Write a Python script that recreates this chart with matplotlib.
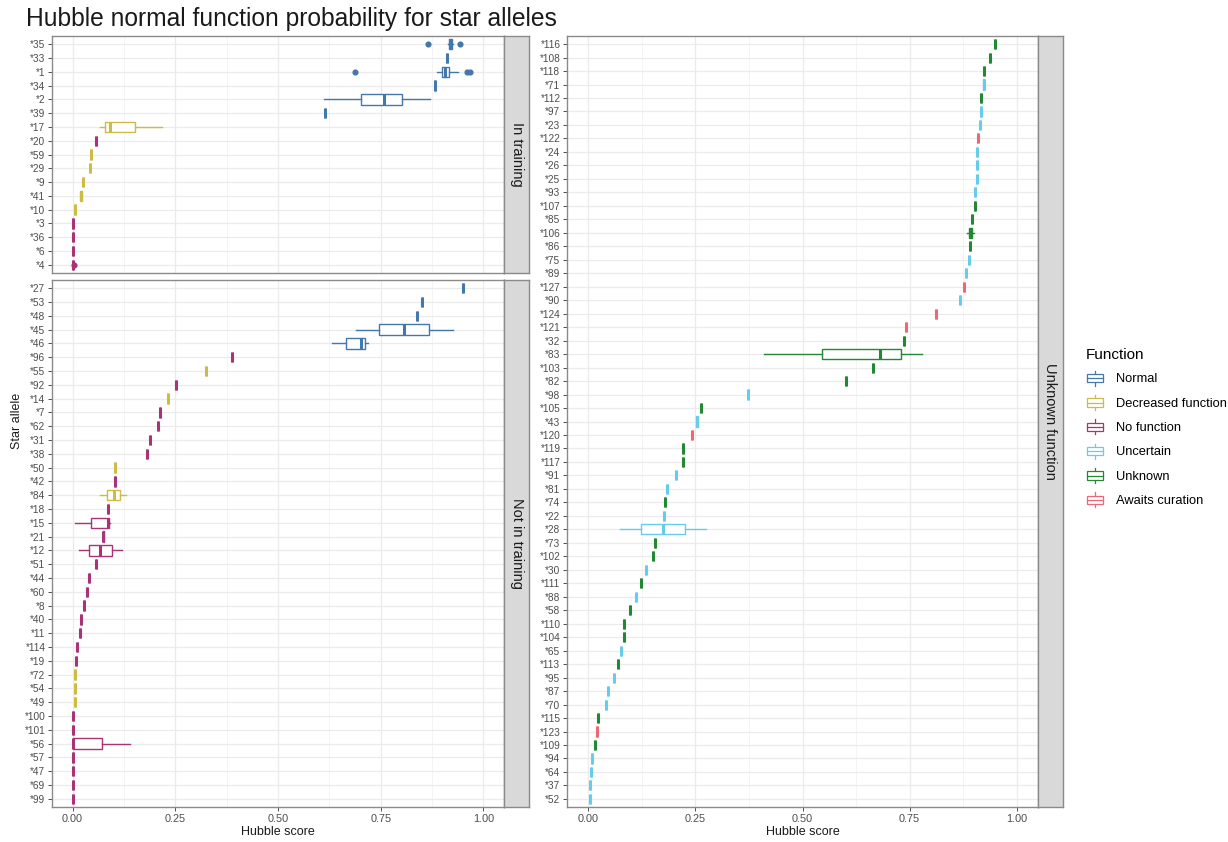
import matplotlib
matplotlib.use("Agg")
import matplotlib.pyplot as plt
from matplotlib.patches import Patch, Rectangle
from matplotlib.lines import Line2D
from matplotlib.legend_handler import HandlerBase
import numpy as np

plt.rcParams['font.family'] = ['Liberation Sans', 'DejaVu Sans']

# function classes and their colours
functions = ["Normal", "Decreased function", "No function", "Uncertain", "Unknown", "Awaits curation"]
func_colors = ["#4477AA", "#CCBB44", "#AA3377", "#66CCEE", "#228833", "#EE6677"]

# --- In training ---
alleles_train = ["*35", "*33", "*1", "*34", "*2", "*39", "*17", "*20", "*59", "*29", "*9",
                 "*41", "*10", "*3", "*36", "*6", "*4"]
func_train = ["Normal", "Normal", "Normal", "Normal", "Normal", "Normal",
              "Decreased function", "No function", "Decreased function", "Decreased function",
              "Decreased function", "Decreased function", "Decreased function",
              "No function", "No function", "No function", "No function"]
med_train = [0.919, 0.912, 0.907, 0.881, 0.759, 0.615, 0.090, 0.058, 0.046, 0.042, 0.025,
             0.020, 0.005, 0.002, 0.002, 0.001, 0.000]

# --- Not in training ---
alleles_not = ["*27", "*53", "*48", "*45", "*46", "*96", "*55", "*92", "*14", "*7", "*62",
               "*31", "*38", "*50", "*42", "*84", "*18", "*15", "*21", "*12", "*51", "*44",
               "*60", "*8", "*40", "*11", "*114", "*19", "*72", "*54", "*49", "*100", "*101",
               "*56", "*57", "*47", "*69", "*99"]
func_not = ["Normal", "Normal", "Normal", "Normal", "Normal",
            "No function", "Decreased function", "No function", "Decreased function",
            "No function", "No function", "No function", "No function", "Decreased function",
            "No function", "Decreased function", "No function", "No function", "No function",
            "No function", "No function", "No function", "No function", "No function",
            "No function", "No function", "No function", "No function",
            "Decreased function", "Decreased function", "Decreased function",
            "No function", "No function", "No function", "No function", "No function",
            "No function", "No function"]
med_not = [0.951, 0.850, 0.839, 0.806, 0.702, 0.389, 0.324, 0.251, 0.233, 0.214, 0.209,
           0.188, 0.180, 0.104, 0.103, 0.101, 0.086, 0.086, 0.074, 0.068, 0.056, 0.040,
           0.035, 0.028, 0.021, 0.019, 0.010, 0.008, 0.006, 0.005, 0.005, 0.002, 0.002,
           0.001, 0.001, 0.001, 0.001, 0.000]

# --- Unknown function ---
alleles_unk = ["*116", "*108", "*118", "*71", "*112", "*97", "*23", "*122", "*24", "*26",
               "*25", "*93", "*107", "*85", "*106", "*86", "*75", "*89", "*127", "*90",
               "*124", "*121", "*32", "*83", "*103", "*82", "*98", "*105", "*43", "*120",
               "*119", "*117", "*91", "*81", "*74", "*22", "*28", "*73", "*102", "*30",
               "*111", "*88", "*58", "*110", "*104", "*65", "*113", "*95", "*87", "*70",
               "*115", "*123", "*109", "*94", "*64", "*37", "*52"]
func_unk = ["Unknown", "Unknown", "Unknown", "Uncertain", "Unknown", "Uncertain", "Uncertain",
            "Awaits curation", "Uncertain", "Uncertain", "Uncertain", "Uncertain", "Unknown",
            "Unknown", "Unknown", "Unknown", "Uncertain", "Uncertain", "Awaits curation",
            "Uncertain", "Awaits curation", "Awaits curation", "Unknown", "Unknown", "Unknown",
            "Unknown", "Uncertain", "Unknown", "Uncertain", "Awaits curation", "Unknown",
            "Unknown", "Uncertain", "Uncertain", "Unknown", "Uncertain", "Uncertain", "Unknown",
            "Unknown", "Uncertain", "Unknown", "Uncertain", "Unknown", "Unknown", "Unknown",
            "Uncertain", "Unknown", "Uncertain", "Uncertain", "Uncertain", "Unknown",
            "Awaits curation", "Unknown", "Uncertain", "Uncertain", "Uncertain", "Uncertain"]
med_unk = [0.950, 0.937, 0.925, 0.923, 0.918, 0.916, 0.915, 0.909, 0.908, 0.907, 0.907,
           0.904, 0.902, 0.896, 0.893, 0.891, 0.889, 0.883, 0.877, 0.867, 0.811, 0.742,
           0.736, 0.680, 0.665, 0.601, 0.372, 0.264, 0.254, 0.242, 0.222, 0.222, 0.204,
           0.184, 0.178, 0.177, 0.174, 0.155, 0.150, 0.135, 0.122, 0.112, 0.098, 0.083,
           0.082, 0.077, 0.068, 0.059, 0.046, 0.042, 0.023, 0.019, 0.015, 0.008, 0.005,
           0.004, 0.003]

# alleles with more than one score: (whisker low, q1, q3, whisker high)
box_spread = {
    "*35": (0.913, 0.915, 0.923, 0.925),
    "*1": (0.887, 0.899, 0.917, 0.937),
    "*2": (0.611, 0.701, 0.801, 0.869),
    "*17": (0.068, 0.078, 0.153, 0.217),
    "*41": (0.018, 0.019, 0.022, 0.023),
    "*4": (0.000, 0.000, 0.001, 0.002),
    "*45": (0.689, 0.747, 0.867, 0.925),
    "*46": (0.632, 0.666, 0.712, 0.719),
    "*84": (0.068, 0.083, 0.116, 0.131),
    "*15": (0.007, 0.045, 0.088, 0.090),
    "*21": (0.073, 0.073, 0.076, 0.076),
    "*12": (0.015, 0.041, 0.095, 0.121),
    "*56": (0.000, 0.000, 0.072, 0.141),
    "*71": (0.921, 0.921, 0.925, 0.925),
    "*106": (0.885, 0.890, 0.896, 0.901),
    "*83": (0.410, 0.545, 0.729, 0.778),
    "*43": (0.252, 0.252, 0.256, 0.256),
    "*28": (0.073, 0.123, 0.226, 0.275),
}
outliers = {
    "*35": [0.866, 0.943],
    "*1": [0.687, 0.959, 0.968],
    "*4": [0.004],
}

W, H = 1228, 842
fig = plt.figure(figsize=(W / 100, H / 100), dpi=100)


def px_axes(x0, y0, x1, y1):
    return fig.add_axes([x0 / W, 1 - y1 / H, (x1 - x0) / W, (y1 - y0) / H])


def draw_panel(ax, alleles, funcs, meds, show_x):
    n = len(alleles)
    for i, (a, f, m) in enumerate(zip(alleles, funcs, meds)):
        c = func_colors[functions.index(f)]
        lo, q1, q3, hi = box_spread.get(a, (m, m, m, m))
        stats = dict(med=m, q1=q1, q3=q3, whislo=lo, whishi=hi, fliers=outliers.get(a, []))
        ax.bxp([stats], positions=[i], widths=0.75, orientation='horizontal',
               patch_artist=True, showcaps=False, manage_ticks=False,
               boxprops=dict(facecolor='white', edgecolor=c, lw=1.0),
               whiskerprops=dict(color=c, lw=1.0),
               medianprops=dict(color=c, lw=2.2, solid_capstyle='butt'),
               flierprops=dict(marker='o', markerfacecolor=c, markeredgecolor=c,
                               markersize=3.4, linestyle='none'))
    ax.set_xlim(-0.05, 1.05)
    ax.set_ylim(n - 0.4, -0.6)
    ax.set_yticks(np.arange(n))
    ax.set_yticklabels(alleles)
    ax.set_xticks([0, 0.25, 0.5, 0.75, 1.0])
    ax.set_xticks([0.125, 0.375, 0.625, 0.875], minor=True)
    ax.set_xticklabels(["0.00", "0.25", "0.50", "0.75", "1.00"])
    ax.set_axisbelow(True)
    ax.grid(True, which='major', color='#EBEBEB', lw=0.9)
    ax.grid(True, which='minor', axis='x', color='#F3F3F3', lw=0.6)
    ax.tick_params(axis='both', which='major', labelsize=7.3, labelcolor='#4D4D4D',
                   color='#333333', length=2.75, width=0.6, pad=2)
    ax.tick_params(axis='x', which='major', labelsize=7.8)
    ax.tick_params(axis='x', which='minor', length=0)
    if not show_x:
        ax.tick_params(axis='x', which='major', length=0, labelbottom=False)
    else:
        ax.set_xlabel("Hubble score", fontsize=9, color='#1A1A1A', labelpad=2)
    for s in ax.spines.values():
        s.set_color('#8A8A8A')
        s.set_linewidth(1.0)


def draw_strip(x0, y0, x1, y1, label):
    sax = px_axes(x0, y0, x1, y1)
    sax.set_facecolor('#D9D9D9')
    sax.set_xticks([])
    sax.set_yticks([])
    for s in sax.spines.values():
        s.set_color('#8A8A8A')
        s.set_linewidth(1.0)
    sax.text(0.5, 0.5, label, rotation=270, ha='center', va='center',
             fontsize=10.5, color='#1A1A1A', transform=sax.transAxes)


ax_train = px_axes(52, 36, 504, 273)
draw_panel(ax_train, alleles_train, func_train, med_train, show_x=False)
draw_strip(504, 36, 529, 273, "In training")

ax_not = px_axes(52, 280, 504, 807)
draw_panel(ax_not, alleles_not, func_not, med_not, show_x=True)
draw_strip(504, 280, 529, 807, "Not in training")

ax_unk = px_axes(567, 36, 1038, 807)
draw_panel(ax_unk, alleles_unk, func_unk, med_unk, show_x=True)
draw_strip(1038, 36, 1063, 807, "Unknown function")

fig.text(17 / W, 1 - 421 / H, "Star allele", rotation=90, ha='center', va='center',
         fontsize=9, color='#1A1A1A')
fig.text(26 / W, 1 - 19 / H, "Hubble normal function probability for star alleles",
         fontsize=17.7, ha='left', va='center', color='#1A1A1A')


class BoxKeyHandler(HandlerBase):
    # draws a small vertical boxplot glyph like ggplot's legend key
    def create_artists(self, legend, orig_handle, xdescent, ydescent, width, height,
                       fontsize, trans):
        c = orig_handle.get_edgecolor()
        x0, y0 = -xdescent, -ydescent
        xm = x0 + width / 2
        arts = [
            Line2D([xm, xm], [y0 + 0.05 * height, y0 + 0.25 * height], color=c, lw=0.9, transform=trans),
            Line2D([xm, xm], [y0 + 0.75 * height, y0 + 0.95 * height], color=c, lw=0.9, transform=trans),
            Rectangle((x0 + 0.05 * width, y0 + 0.25 * height), 0.9 * width, 0.5 * height,
                      facecolor='white', edgecolor=c, lw=0.9, transform=trans),
            Line2D([x0 + 0.05 * width, x0 + 0.95 * width], [y0 + 0.5 * height] * 2,
                   color=c, lw=0.9, transform=trans),
        ]
        return arts


handles = [Patch(edgecolor=c, facecolor='white') for c in func_colors]
fig.legend(handles, functions, title="Function", loc='upper left',
           bbox_to_anchor=(1081 / W, 1 - 343 / H), frameon=False, fontsize=9.3,
           title_fontsize=11, handler_map={Patch: BoxKeyHandler()}, alignment='left',
           handlelength=1.4, handleheight=1.6, labelspacing=0.6, handletextpad=0.9,
           borderaxespad=0)

fig.savefig("out.png", dpi=100)
